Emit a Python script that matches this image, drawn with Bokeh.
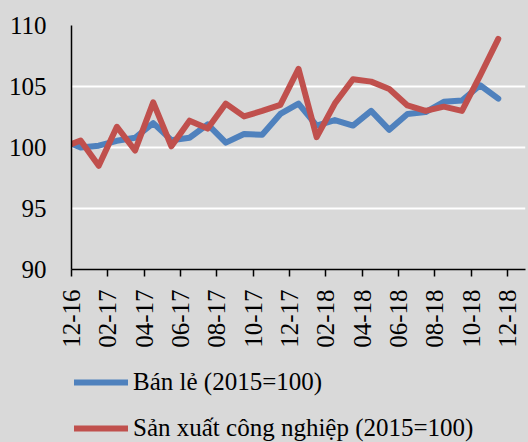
import math
from bokeh.plotting import figure
from bokeh.layouts import column
from bokeh.models import FixedTicker, Legend, LegendItem, Range1d
from bokeh.embed import file_html
from bokeh.resources import INLINE

# Monthly data, Nov 2016 .. Nov 2018 (first point lies just before the axis start)
months = ["11-16", "12-16", "01-17", "02-17", "03-17", "04-17", "05-17", "06-17",
          "07-17", "08-17", "09-17", "10-17", "11-17", "12-17", "01-18", "02-18",
          "03-18", "04-18", "05-18", "06-18", "07-18", "08-18", "09-18", "10-18", "11-18"]
retail = [100.6, 100.0, 100.15, 100.55, 100.8, 102.0, 100.6, 100.8, 101.9, 100.4,
          101.1, 101.05, 102.75, 103.6, 101.8, 102.25, 101.8, 103.0, 101.45, 102.75,
          102.9, 103.75, 103.85, 105.1, 104.0]
industry = [100.0, 100.57, 98.5, 101.7, 99.75, 103.7, 100.1, 102.2, 101.55, 103.6,
            102.55, 103.0, 103.5, 106.45, 100.85, 103.6, 105.6, 105.4, 104.8, 103.45,
            103.0, 103.35, 103.0, 105.9, 108.9]
tick_labels = ["12-16", "02-17", "04-17", "06-17", "08-17", "10-17", "12-17",
               "02-18", "04-18", "06-18", "08-18", "10-18", "12-18"]
y_ticks = [90, 95, 100, 105, 110]
series_names = ["Bán lẻ (2015=100)", "Sản xuất công nghiệp (2015=100)"]
colors = ["#4f81bd", "#c0504d"]

# month index: Dec 2016 starts at 0; points plotted mid-month
x = [i - 0.5 for i in range(len(months))]
tick_pos = [2 * i for i in range(len(tick_labels))]

BG = "#d9d9d9"
FONT = "Liberation Serif"
FS = "25px"

p = figure(width=528, height=350, output_backend="svg", toolbar_location=None,
           x_range=Range1d(0, 25), y_range=Range1d(90, 110),
           min_border_left=71, min_border_right=3, min_border_top=25, min_border_bottom=81)
p.background_fill_color = BG
p.border_fill_color = BG
p.outline_line_color = None

for ys, c in zip([retail, industry], colors):
    p.line(x, ys, line_color=c, line_width=6, line_join="round", line_cap="round")

p.xgrid.visible = False
p.ygrid.ticker = FixedTicker(ticks=y_ticks)
p.ygrid.grid_line_color = "white"
p.ygrid.grid_line_width = 2

ya = p.yaxis[0]
ya.ticker = FixedTicker(ticks=y_ticks)
ya.major_tick_out = 0
ya.major_tick_in = 0
ya.minor_tick_out = 0
ya.minor_tick_in = 0
ya.axis_line_color = "black"
ya.axis_line_width = 1.5
ya.major_label_text_font = FONT
ya.major_label_text_font_size = FS
ya.major_label_text_color = "black"
ya.major_label_standoff = 25

xa = p.xaxis[0]
xa.ticker = FixedTicker(ticks=tick_pos)
xa.major_label_overrides = {t: l for t, l in zip(tick_pos, tick_labels)}
xa.major_label_orientation = math.pi / 2
xa.major_label_text_baseline = "top"
xa.major_tick_out = 7
xa.major_tick_in = 0
xa.minor_tick_out = 0
xa.minor_tick_in = 0
xa.major_tick_line_width = 1.5
xa.axis_line_color = "black"
xa.axis_line_width = 1.5
xa.major_label_text_font = FONT
xa.major_label_text_font_size = FS
xa.major_label_text_color = "black"
xa.major_label_standoff = 13

# Legend panel below the chart
p2 = figure(width=528, height=92, output_backend="svg", toolbar_location=None,
            x_range=Range1d(0, 25), y_range=Range1d(0, 1),
            x_axis_location=None, y_axis_location=None,
            min_border_left=0, min_border_right=0, min_border_top=0, min_border_bottom=0)
p2.background_fill_color = BG
p2.border_fill_color = BG
p2.outline_line_color = None
p2.grid.visible = False

items = []
for name, ys, c in zip(series_names, [retail, industry], colors):
    r = p2.line(x, ys, line_color=c, line_width=6, line_join="round", line_cap="round")
    r.visible = False
    items.append(LegendItem(label=name, renderers=[r]))

legend = Legend(items=items, location=(3, 0), orientation="vertical")
legend.background_fill_alpha = 0
legend.border_line_alpha = 0
legend.label_text_font = FONT
legend.label_text_font_size = FS
legend.label_text_color = "black"
legend.glyph_width = 54
legend.glyph_height = 26
legend.label_height = 26
legend.label_standoff = 5
legend.spacing = 18
legend.padding = 0
legend.margin = 0
p2.add_layout(legend, "center")

layout = column(p, p2, spacing=0)
html = file_html(layout, INLINE)
html = html.replace("<head>", "<head><style>body{background:%s;}</style>" % BG, 1)
open("out.html", "w").write(html)
